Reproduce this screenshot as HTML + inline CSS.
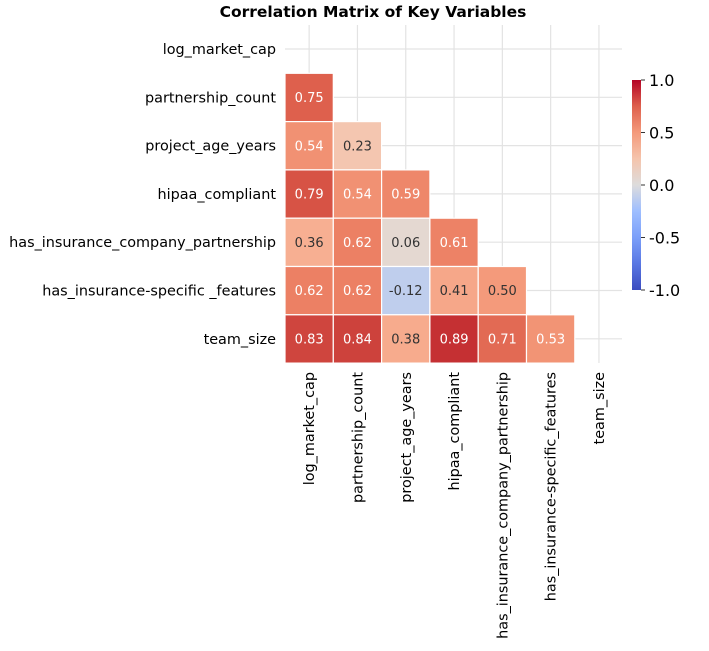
<!DOCTYPE html>
<html><head><meta charset="utf-8"><style>
html,body{margin:0;padding:0;background:#fff;width:709px;height:651px;overflow:hidden}
svg{display:block;font-family:"DejaVu Sans","Liberation Sans",sans-serif}
</style></head><body>
<svg id="s" width="709" height="651" viewBox="0 0 709 651" xmlns="http://www.w3.org/2000/svg">
<defs><linearGradient id="cb" x1="0" y1="1" x2="0" y2="0">
<stop offset="0" stop-color="#3b4cc0"/><stop offset="0.125" stop-color="#5977e3"/><stop offset="0.25" stop-color="#7b9ff9"/><stop offset="0.375" stop-color="#9ebeff"/><stop offset="0.5" stop-color="#dddcdc"/><stop offset="0.625" stop-color="#f5c4ac"/><stop offset="0.75" stop-color="#f49a7b"/><stop offset="0.875" stop-color="#de604d"/><stop offset="1" stop-color="#b40426"/>
</linearGradient></defs>
<text x="373" y="17" text-anchor="middle" font-weight="bold" font-size="15.5">Correlation Matrix of Key Variables</text>
</svg>
<script>
const s=document.getElementById('s'),NS='http://www.w3.org/2000/svg';
function el(t,a,txt){const e=document.createElementNS(NS,t);for(const k in a)e.setAttribute(k,a[k]);if(txt!==undefined)e.textContent=txt;s.appendChild(e);return e;}
const names=['log_market_cap','partnership_count','project_age_years','hipaa_compliant','has_insurance_company_partnership','has_insurance-specific _features','team_size'];
const xn=['log_market_cap','partnership_count','project_age_years','hipaa_compliant','has_insurance_company_partnership','has_insurance-specific_features','team_size'];
const M=[[],[0.75],[0.54,0.23],[0.79,0.54,0.59],[0.36,0.62,0.06,0.61],[0.62,0.62,-0.12,0.41,0.50],[0.83,0.84,0.38,0.89,0.71,0.53]];
const stops=[[0,'3b4cc0'],[.125,'5977e3'],[.25,'7b9ff9'],[.375,'9ebeff'],[.5,'dddcdc'],[.5625,'ecd3c5'],[.625,'f5c4ac'],[.6875,'f7ac8e'],[.75,'f49a7b'],[.8125,'ec7f63'],[.875,'de604d'],[.9375,'c73635'],[1,'b40426']];
function col(v){const t=(v+1)/2;for(let i=1;i<stops.length;i++){if(t<=stops[i][0]){const a=stops[i-1],b=stops[i],f=(t-a[0])/(b[0]-a[0]);const p=h=>[0,2,4].map(j=>parseInt(h.substr(j,2),16));const A=p(a[1]),B=p(b[1]);return 'rgb('+A.map((x,j)=>Math.round(x+(B[j]-x)*f)).join(',')+')';}}return '#b40426';}
const x0=285,y0=25,w=48.3;
for(let i=0;i<7;i++){const cx=x0+w/2+i*w,cy=y0+24+i*w;
el('line',{x1:cx,y1:y0,x2:cx,y2:363,stroke:'#e3e3e3','stroke-width':1.2});
el('line',{x1:x0,y1:cy,x2:622,y2:cy,stroke:'#e3e3e3','stroke-width':1.2});}
for(let r=0;r<7;r++){for(let c=0;c<r;c++){const v=M[r][c];
el('rect',{x:x0+c*w,y:y0+r*w,width:w,height:w,fill:col(v),stroke:'#fff','stroke-width':1.2});
el('text',{x:x0+c*w+w/2,y:y0+r*w+w/2+4.5,'text-anchor':'middle','font-size':13,fill:Math.abs(v)>0.52?'#fff':'#333'},v.toFixed(2));}}
names.forEach((n,i)=>el('text',{x:276,y:y0+24+i*w+5,'text-anchor':'end','font-size':14.4},n));
xn.forEach((n,i)=>{const cx=x0+w/2+i*w+5;el('text',{x:cx,y:372,'text-anchor':'end','font-size':14.4,transform:'rotate(-90 '+cx+' 372)'},n);});
el('rect',{x:632,y:80,width:9,height:210,fill:'url(#cb)'});
[1,0.5,0,-0.5,-1].forEach((v,i)=>{const y=80+i*52.5;el('line',{x1:641,y1:y,x2:645,y2:y,stroke:'#333'});el('text',{x:649,y:y+6,'font-size':16},v.toFixed(1));});
</script>
</body></html>
